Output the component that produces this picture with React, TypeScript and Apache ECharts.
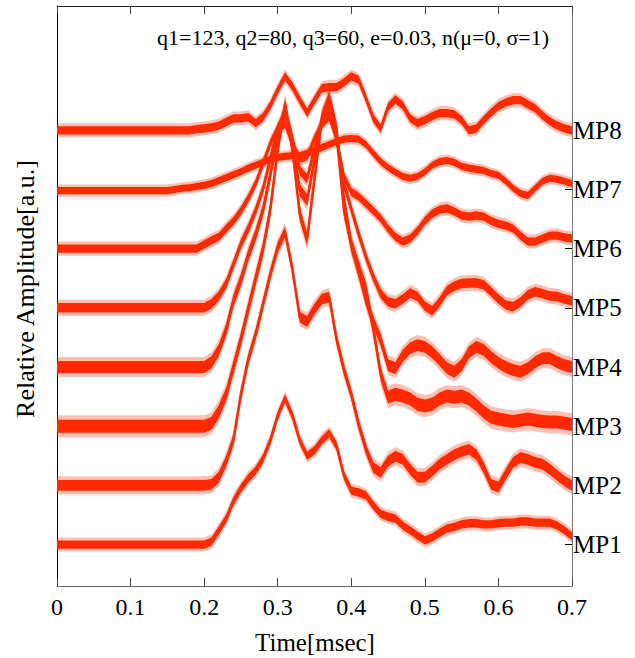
import React, { useEffect, useRef } from "react";
import * as echarts from "echarts";

// sampling instants [msec]
const TIME = [
  0, 0.01, 0.02, 0.03, 0.04, 0.05, 0.06, 0.07, 0.08, 0.09,
  0.1, 0.11, 0.12, 0.13, 0.14, 0.15, 0.16, 0.17, 0.18, 0.19,
  0.2, 0.21, 0.22, 0.23, 0.24, 0.25, 0.26, 0.27, 0.28, 0.29,
  0.3, 0.31, 0.32, 0.33, 0.34, 0.35, 0.36, 0.37, 0.38, 0.39,
  0.4, 0.41, 0.42, 0.43, 0.44, 0.45, 0.46, 0.47, 0.48, 0.49,
  0.5, 0.51, 0.52, 0.53, 0.54, 0.55, 0.56, 0.57, 0.58, 0.59,
  0.6, 0.61, 0.62, 0.63, 0.64, 0.65, 0.66, 0.67, 0.68, 0.69,
  0.7,
];

// amplitudes relative to each trace's baseline (1 unit = trace spacing)
const MP1 = [
  0, 0, 0, 0, 0, 0, 0, 0, 0, 0, 0, 0, 0, 0, 0, 0, 0, 0, 0, 0, 0,
  0.05, 0.24, 0.44, 0.74, 0.95, 1.12, 1.25, 1.45, 1.76, 2.18,
  2.47, 2.18, 1.76, 1.5, 1.59, 1.76, 1.88, 1.67, 1.17, 0.91,
  0.88, 0.83, 0.66, 0.52, 0.47, 0.44, 0.32, 0.24, 0.15, 0.07,
  0.12, 0.2, 0.27, 0.3, 0.34, 0.36, 0.36, 0.34, 0.34, 0.36,
  0.37, 0.37, 0.39, 0.39, 0.37, 0.37, 0.37, 0.32, 0.24, 0.14,
];
const MP2 = [
  0, 0, 0, 0, 0, 0, 0, 0, 0, 0, 0, 0, 0, 0, 0, 0, 0, 0, 0, 0, 0,
  0.02, 0.14, 0.41, 0.78, 1.54, 2.13, 2.55, 3.06, 3.57, 4.02,
  4.28, 3.65, 2.84, 2.77, 2.98, 3.15, 3.18, 2.47, 1.96, 1.54,
  1.03, 0.61, 0.3, 0.22, 0.41, 0.49, 0.44, 0.27, 0.14, 0.14,
  0.24, 0.36, 0.44, 0.52, 0.57, 0.61, 0.52, 0.3, 0.02, -0.03,
  0.19, 0.39, 0.47, 0.44, 0.39, 0.36, 0.27, 0.17, 0.07, 0,
];
const MP3 = [
  0, 0, 0, 0, 0, 0, 0, 0, 0, 0, 0, 0, 0, 0, 0, 0, 0, 0, 0, 0, 0,
  0.05, 0.25, 0.54, 1.0, 1.47, 1.98, 2.49, 2.99, 3.67, 4.68,
  5.44, 4.68, 3.58, 3.16, 4.18, 5.19, 5.56, 5.02, 3.84, 3.08,
  2.69, 2.32, 1.64, 0.88, 0.49, 0.54, 0.51, 0.46, 0.37, 0.34,
  0.37, 0.46, 0.51, 0.49, 0.51, 0.46, 0.36, 0.24, 0.15, 0.12,
  0.1, 0.08, 0.1, 0.12, 0.1, 0.08, 0.07, 0.07, 0.05, 0.03,
];
const MP4 = [
  0, 0, 0, 0, 0, 0, 0, 0, 0, 0, 0, 0, 0, 0, 0, 0, 0, 0, 0, 0, 0,
  0.08, 0.29, 0.63, 1.13, 1.47, 1.89, 2.23, 2.65, 3.25, 3.92,
  4.35, 3.84, 2.99, 2.82, 3.5, 4.21, 4.43, 3.92, 2.65, 2.06,
  1.61, 1.13, 0.76, 0.46, 0.03, -0.02, 0.19, 0.32, 0.37, 0.34,
  0.25, 0.12, -0.02, -0.08, 0.03, 0.25, 0.34, 0.29, 0.17, 0.07,
  0, -0.05, -0.08, -0.02, 0.08, 0.15, 0.15, 0.08, 0.03, 0,
];
const MP5 = [
  0, 0, 0, 0, 0, 0, 0, 0, 0, 0, 0, 0, 0, 0, 0, 0, 0, 0, 0, 0, 0,
  0.07, 0.2, 0.41, 0.74, 1.08, 1.34, 1.64, 2.01, 2.52, 3.03,
  3.28, 2.86, 2.32, 2.18, 2.69, 3.16, 3.33, 2.86, 2.1, 1.67,
  1.25, 0.86, 0.52, 0.24, 0.1, 0.07, 0.15, 0.25, 0.19, 0.03,
  -0.05, 0.1, 0.29, 0.37, 0.41, 0.42, 0.42, 0.39, 0.27, 0.15,
  0.05, 0.02, 0.1, 0.22, 0.27, 0.24, 0.2, 0.19, 0.15, 0.12,
];
const MP6 = [
  0, 0, 0, 0, 0, 0, 0, 0, 0, 0, 0, 0, 0, 0, 0, 0, 0, 0, 0, 0,
  0.07, 0.14, 0.2, 0.34, 0.47, 0.64, 0.85, 1.1, 1.44, 1.78,
  2.03, 2.11, 1.78, 1.52, 1.56, 1.86, 2.11, 2.23, 1.86, 1.22,
  0.96, 0.88, 0.76, 0.64, 0.51, 0.34, 0.2, 0.12, 0.17, 0.3,
  0.47, 0.59, 0.66, 0.68, 0.63, 0.56, 0.54, 0.56, 0.54, 0.47,
  0.42, 0.39, 0.34, 0.22, 0.12, 0.12, 0.17, 0.22, 0.22, 0.19,
  0.17,
];
const MP7 = [
  -0.02, -0.02, -0.02, -0.02, -0.02, -0.02, -0.02, -0.02, -0.02, -0.02,
  -0.02, -0.02, -0.02, -0.02, -0.02, -0.02,
  0, 0.02, 0.03, 0.05, 0.07, 0.1, 0.15, 0.2, 0.25, 0.3,
  0.36, 0.41, 0.46, 0.51, 0.54, 0.56, 0.57, 0.57, 0.61, 0.66,
  0.71, 0.76, 0.81, 0.85, 0.86, 0.85, 0.76, 0.61, 0.47, 0.37,
  0.29, 0.22, 0.19, 0.22, 0.3, 0.41, 0.47, 0.49, 0.46, 0.39,
  0.36, 0.34, 0.32, 0.27, 0.24, 0.14, 0.02, -0.07, -0.1, 0.02,
  0.14, 0.19, 0.17, 0.14, 0.1,
];
const MP8 = [
  0, 0, 0, 0, 0, 0, 0, 0, 0, 0, 0, 0, 0, 0, 0, 0, 0, 0, 0,
  0.02, 0.03, 0.05, 0.08, 0.14, 0.2, 0.2, 0.22, 0.12, 0.22, 0.42,
  0.68, 0.91, 0.74, 0.51, 0.3, 0.51, 0.71, 0.73, 0.73, 0.81,
  0.91, 0.85, 0.54, 0.2, 0.03, 0.39, 0.52, 0.42, 0.2, 0.12,
  0.17, 0.24, 0.29, 0.29, 0.27, 0.17, 0, 0.03, 0.17, 0.3,
  0.41, 0.47, 0.51, 0.51, 0.44, 0.37, 0.25, 0.15, 0.08, 0.03,
  0,
];

const TRACE_NAMES = ["MP1", "MP2", "MP3", "MP4", "MP5", "MP6", "MP7", "MP8"];
const OFFSETS = [1, 2, 3, 4, 5, 6, 7, 8];
// half-width of the noise band of each trace (same units)
const NOISE = [0.07, 0.09, 0.11, 0.1, 0.08, 0.07, 0.06, 0.07];
const TRACES = [MP1, MP2, MP3, MP4, MP5, MP6, MP7, MP8];

const ANNOTATION = "q1=123, q2=80, q3=60, e=0.03, n(μ=0, σ=1)";
const X_TITLE = "Time[msec]";
const Y_TITLE = "Relative Amplitude[a.u.]";

const RED = "#ff2a00";
const FONT = "Liberation Serif";

export default function App() {
  const ref = useRef<HTMLDivElement>(null);

  useEffect(() => {
    if (!ref.current) return;
    const chart = echarts.init(ref.current, null, { renderer: "svg" });

    const bandSeries = {
      type: "custom",
      coordinateSystem: "cartesian2d",
      xAxisIndex: 0,
      yAxisIndex: 0,
      clip: true,
      silent: true,
      z: 2,
      data: TRACES.map((_, k) => [k]),
      renderItem: (params: any, api: any) => {
        const k = params.dataIndex;
        const amp = TRACES[k];
        const off = OFFSETS[k];
        const h = NOISE[k];
        const band = (w: number) => {
          const up = TIME.map((t, i) => api.coord([t, off + amp[i] + w]));
          const lo = TIME.map((t, i) => api.coord([t, off + amp[i] - w])).reverse();
          return up.concat(lo);
        };
        return {
          type: "group",
          children: [
            {
              type: "polygon",
              shape: { points: band(h * 1.7) },
              style: { fill: RED, opacity: 0.3 },
            },
            {
              type: "polygon",
              shape: { points: band(h) },
              style: { fill: RED },
            },
          ],
        };
      },
    };

    const lineSeries = TRACES.map((amp, k) => ({
      type: "line",
      name: TRACE_NAMES[k],
      data: TIME.map((t, i) => [t, OFFSETS[k] + amp[i]]),
      symbol: "none",
      lineStyle: { color: RED, width: 2.5 },
      silent: true,
      z: 3,
    }));

    const yMin = 0.3;
    const yMax = 10.1;

    chart.setOption({
      animation: false,
      backgroundColor: "#ffffff",
      grid: { left: 57, right: 63, top: 6, bottom: 72, containLabel: false },
      xAxis: [
        {
          type: "value",
          position: "bottom",
          min: 0,
          max: 0.7,
          interval: 0.1,
          axisLine: { show: true, onZero: false, lineStyle: { color: "#666", width: 1 } },
          axisTick: { show: true, inside: true, length: 8, lineStyle: { color: "#444" } },
          axisLabel: {
            color: "#000",
            fontFamily: FONT,
            fontSize: 24,
            margin: 9,
            formatter: (v: number) => (v === 0 ? "0" : v.toFixed(1)),
          },
          splitLine: { show: false },
        },
        {
          type: "value",
          position: "top",
          min: 0,
          max: 0.7,
          interval: 0.1,
          axisLine: { show: true, onZero: false, lineStyle: { color: "#222", width: 1 } },
          axisTick: { show: true, inside: true, length: 8, lineStyle: { color: "#444" } },
          axisLabel: { show: false },
          splitLine: { show: false },
        },
      ],
      yAxis: [
        {
          type: "value",
          position: "left",
          min: yMin,
          max: yMax,
          axisLine: { show: true, onZero: false, lineStyle: { color: "#000", width: 1 } },
          axisTick: {
            show: true,
            inside: true,
            length: 4,
            customValues: OFFSETS,
            lineStyle: { color: "#000" },
          },
          axisLabel: { show: false },
          splitLine: { show: false },
        },
        {
          type: "value",
          position: "right",
          min: yMin,
          max: yMax,
          axisLine: { show: true, onZero: false, lineStyle: { color: "#777", width: 1 } },
          axisTick: {
            show: true,
            inside: true,
            length: 7,
            customValues: OFFSETS,
            lineStyle: { color: "#000" },
          },
          axisLabel: {
            show: true,
            customValues: OFFSETS,
            formatter: (v: number) => TRACE_NAMES[Math.round(v) - 1] ?? "",
            color: "#000",
            fontFamily: FONT,
            fontSize: 25,
            margin: 1,
          },
          splitLine: { show: false },
        },
      ],
      graphic: [
        {
          type: "text",
          x: 353,
          y: 37,
          style: {
            text: ANNOTATION,
            fontFamily: FONT,
            fontSize: 22,
            fill: "#000",
            align: "center",
            verticalAlign: "middle",
          },
        },
        {
          type: "text",
          x: 315,
          y: 642,
          style: {
            text: X_TITLE,
            fontFamily: FONT,
            fontSize: 25,
            fill: "#000",
            align: "center",
            verticalAlign: "middle",
          },
        },
        {
          type: "text",
          x: 25,
          y: 289,
          rotation: Math.PI / 2,
          style: {
            text: Y_TITLE,
            fontFamily: FONT,
            fontSize: 26,
            fill: "#000",
            align: "center",
            verticalAlign: "middle",
          },
        },
      ],
      series: [bandSeries, ...lineSeries],
    });

    return () => {
      chart.dispose();
    };
  }, []);

  return (
    <div
      ref={ref}
      style={{ position: "fixed", left: 0, top: 0, width: 635, height: 658, background: "#fff" }}
    />
  );
}
